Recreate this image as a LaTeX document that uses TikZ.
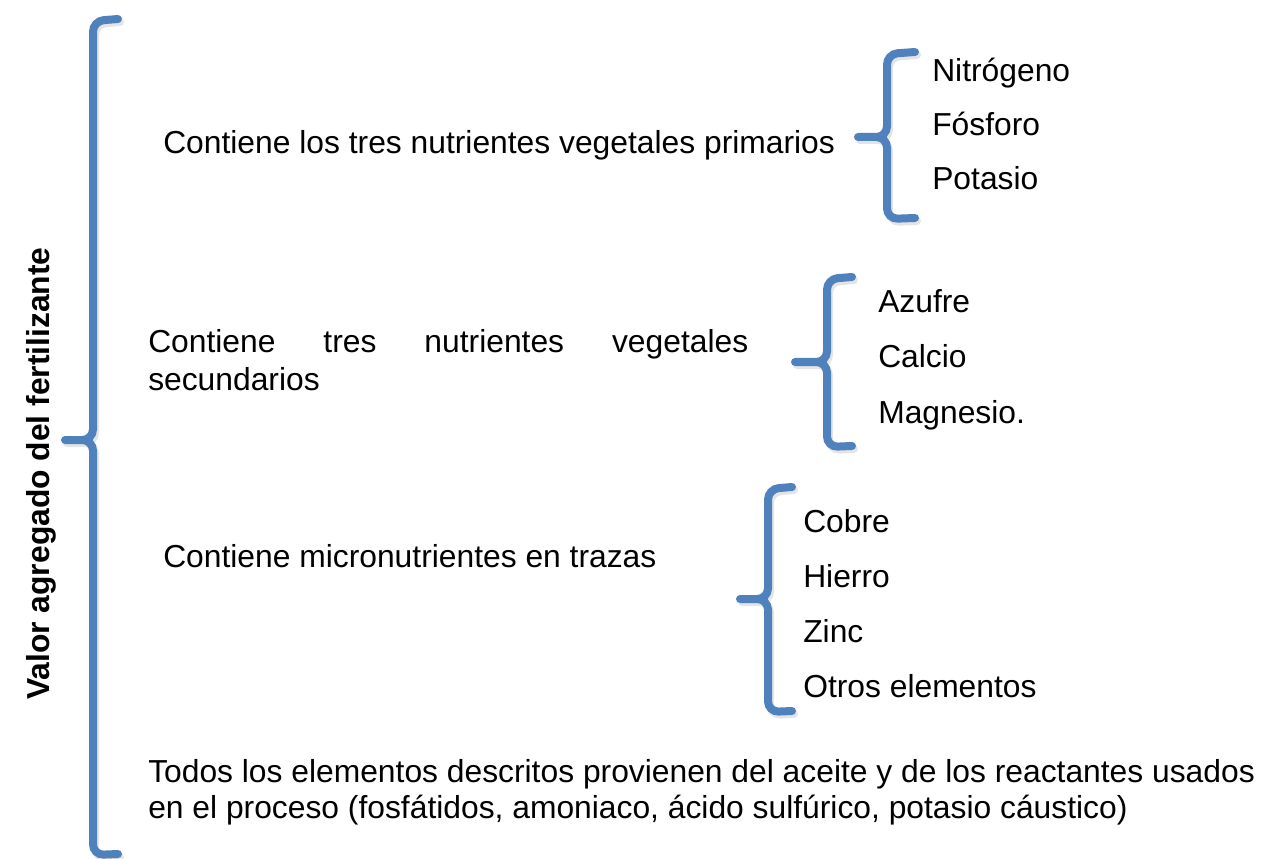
\documentclass[tikz,border=0pt]{standalone}
\usepackage{fontspec}
\setmainfont{Liberation Sans}
\definecolor{bracecol}{RGB}{79,129,189}
% #1 x of vertical, #2 y top, #3 y middle, #4 y bottom, #5 x hook end, #6 x tick end
\newcommand\mybracepath[6]{%
  (#5,#2) -- (#1,{#2+2}) -- (#1,#3) -- (#6,#3)
  (#6,#3) -- (#1,#3) -- (#1,#4) -- (#5,{#4-1})}
\newcommand\mybrace[6]{%
  \draw[braceshadow] \mybracepath{#1}{#2}{#3}{#4}{#5}{#6};
  \draw[bracestyle] \mybracepath{#1}{#2}{#3}{#4}{#5}{#6};}
\tikzset{
  bracestyle/.style={draw=bracecol, line width=6pt, rounded corners=8pt, line cap=round},
  braceshadow/.style={bracestyle, draw=black!30, opacity=0.35, shift={(2,3)}},
  txt/.style={inner sep=0pt, anchor=base west, font=\fontsize{23.85pt}{27pt}\selectfont},
}
\begin{document}
\begin{tikzpicture}[x=0.75pt,y=-0.75pt]
\useasboundingbox (0,0) rectangle (1264,859);
% braces
\mybrace{93}{19}{440}{855}{118}{65}
\mybrace{887}{52}{137}{219}{915}{858}
\mybrace{827}{277}{362}{447}{852}{795}
\mybrace{768}{487}{599}{712}{792}{740}
% vertical label
\node[txt, rotate=90, font=\fontsize{23.85pt}{27pt}\selectfont\bfseries] (lab) at (49,700) {Valor agregado del fertilizante};
% first group
\node[txt] (t1) at (163,154) {Contiene los tres nutrientes vegetales primarios};
\node[txt] (n1) at (932,82) {Nitrógeno};
\node[txt] (n2) at (932,136) {Fósforo};
\node[txt] (n3) at (932,190) {Potasio};
% second group
\node[txt] (t2a) at (148,353) {\makebox[450pt][s]{Contiene tres nutrientes vegetales}};
\node[txt] (t2b) at (148,390) {secundarios};
\node[txt] (s1) at (878,313) {Azufre};
\node[txt] (s2) at (878,368) {Calcio};
\node[txt] (s3) at (878,423) {Magnesio.};
% third group
\node[txt] (t3) at (163,567) {Contiene micronutrientes en trazas};
\node[txt] (m1) at (803,532) {Cobre};
\node[txt] (m2) at (803,587) {Hierro};
\node[txt] (m3) at (803,642) {Zinc};
\node[txt] (m4) at (803,697) {Otros elementos};
% bottom paragraph
\node[txt] (t4a) at (148,782) {Todos los elementos descritos provienen del aceite y de los reactantes usados};
\node[txt] (t4b) at (148,818) {en el proceso (fosfátidos, amoniaco, ácido sulfúrico, potasio cáustico)};
\end{tikzpicture}
\end{document}
